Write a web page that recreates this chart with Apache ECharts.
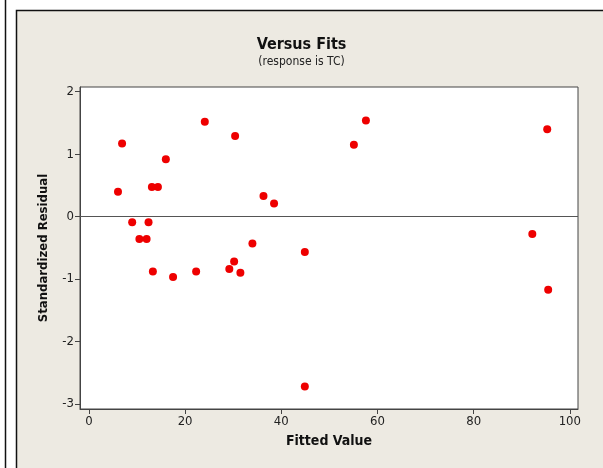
<!DOCTYPE html>
<html>
<head>
<meta charset="utf-8">
<script src="https://cdn.jsdelivr.net/npm/echarts@6/dist/echarts.min.js"></script>
<style>
html,body{margin:0;padding:0;background:#fff;}
#c{width:603px;height:468px;}
</style>
</head>
<body>
<div id="c"></div>
<script>
const fittedValues = [6.05, 6.9, 9.0, 10.5, 12.0, 12.4, 13.1, 14.35, 13.3, 16.0, 17.5, 22.3, 24.1, 29.2, 30.2, 30.4, 31.5, 34.0, 36.3, 38.5, 44.9, 44.9, 55.1, 57.6, 95.3, 92.2, 95.5];
const stdResiduals = [0.40, 1.17, -0.09, -0.36, -0.36, -0.09, 0.475, 0.475, -0.88, 0.92, -0.965, -0.88, 1.52, -0.84, -0.72, 1.29, -0.90, -0.43, 0.33, 0.21, -0.565, -2.72, 1.15, 1.54, 1.40, -0.28, -1.17];
const xTicks = [0, 20, 40, 60, 80, 100];
const yTicks = [-3, -2, -1, 0, 1, 2];
const titleText = 'Versus Fits';
const subtitleText = '(response is TC)';
const xName = 'Fitted Value';
const yName = 'Standardized Residual';

const points = fittedValues.map((x, i) => [x, stdResiduals[i]]);
const FONT = '"DejaVu Sans Condensed", "Liberation Sans Narrow", "Roboto", sans-serif';

const chart = echarts.init(document.getElementById('c'), null, {renderer: 'canvas'});
chart.setOption({
  backgroundColor: '#ffffff',
  animation: false,
  graphic: [
    {type: 'rect', z: -10, silent: true, shape: {x: 16.5, y: 10.5, width: 600, height: 470},
     style: {fill: '#EDEAE2', stroke: '#111', lineWidth: 1.5}},
    {type: 'line', z: -10, silent: true, shape: {x1: 5.5, y1: 0, x2: 5.5, y2: 468},
     style: {stroke: '#111', lineWidth: 1.5}}
  ],
  title: {
    text: titleText,
    subtext: subtitleText,
    left: 'center',
    top: 32,
    itemGap: 3,
    textStyle: {fontFamily: FONT, fontWeight: 'bold', fontSize: 16, color: '#111'},
    subtextStyle: {fontFamily: FONT, fontSize: 12, color: '#222'}
  },
  grid: {
    left: 80, right: 25, top: 87, bottom: 59,
    show: true, backgroundColor: '#ffffff', borderColor: '#444', borderWidth: 1
  },
  xAxis: {
    type: 'value',
    min: -1.85, max: 101.7,
    name: xName,
    nameLocation: 'middle',
    nameGap: 25,
    nameTextStyle: {fontFamily: FONT, fontWeight: 'bold', fontSize: 14, color: '#111'},
    axisLine: {show: true, onZero: false, lineStyle: {color: '#444', width: 1}},
    axisTick: {show: true, customValues: xTicks, length: 5, lineStyle: {color: '#444'}},
    axisLabel: {customValues: xTicks, fontFamily: FONT, fontSize: 13, color: '#222', margin: 6},
    splitLine: {show: false}
  },
  yAxis: {
    type: 'value',
    min: -3.08, max: 2.075,
    name: yName,
    nameLocation: 'middle',
    nameGap: 30,
    nameTextStyle: {fontFamily: FONT, fontWeight: 'bold', fontSize: 13, color: '#111'},
    axisLine: {show: true, onZero: false, lineStyle: {color: '#444', width: 1}},
    axisTick: {show: true, customValues: yTicks, length: 5, lineStyle: {color: '#444'}},
    axisLabel: {customValues: yTicks, fontFamily: FONT, fontSize: 13, color: '#222', margin: 6},
    splitLine: {show: false}
  },
  series: [{
    type: 'scatter',
    data: points,
    symbol: 'circle',
    symbolSize: 8,
    itemStyle: {color: '#EE0000', opacity: 1},
    markLine: {
      silent: true,
      symbol: 'none',
      label: {show: false},
      lineStyle: {color: '#555', width: 1, type: 'solid'},
      data: [{yAxis: 0}]
    }
  }]
});
</script>
</body>
</html>
